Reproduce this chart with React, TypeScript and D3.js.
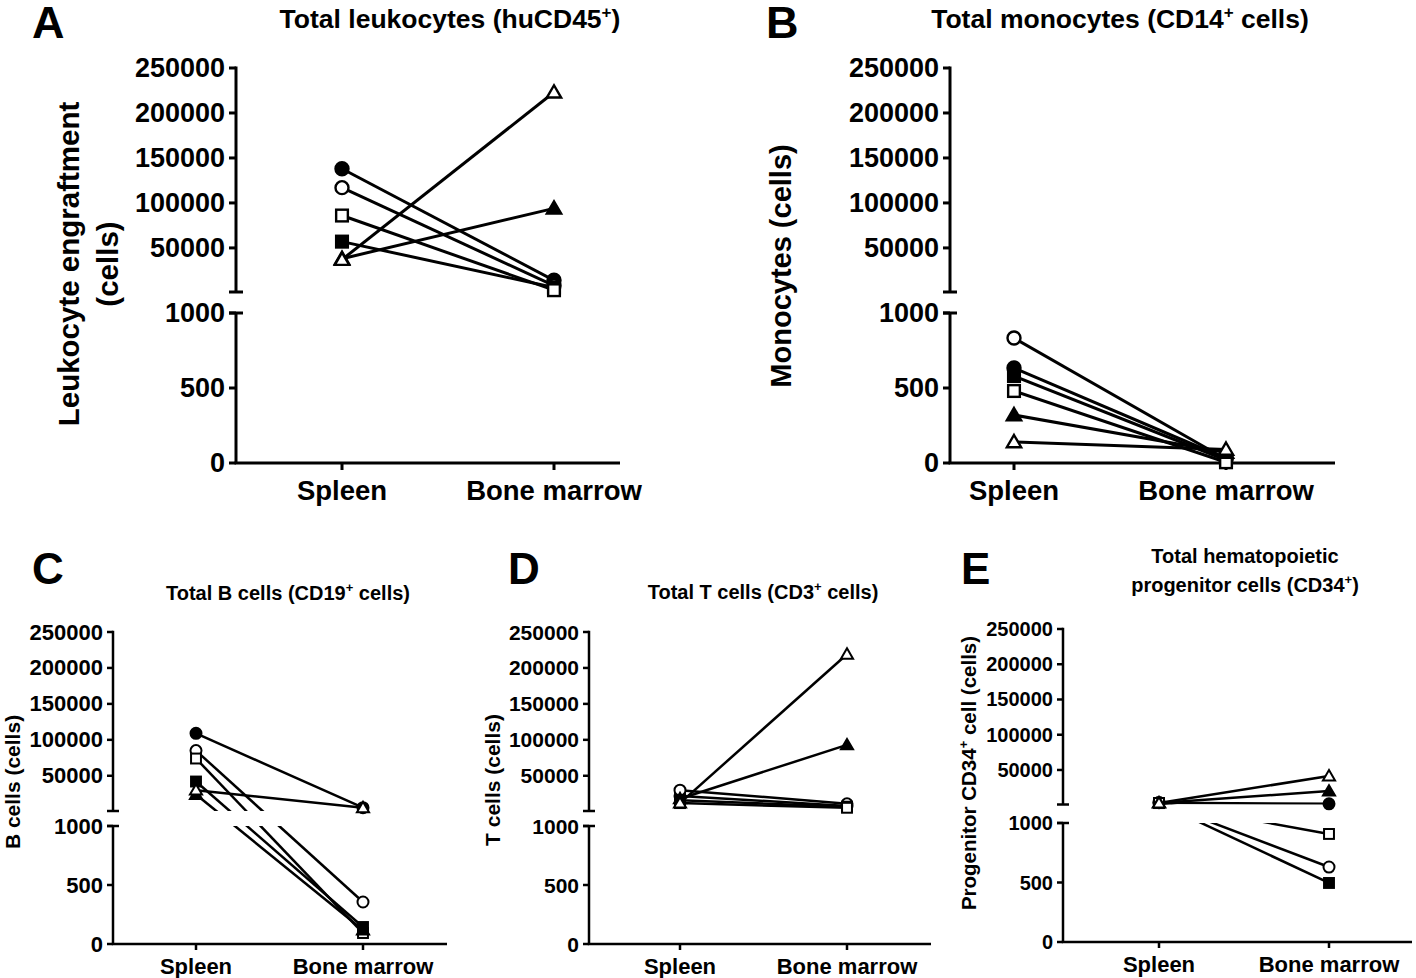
import * as d3 from 'd3';

// categories / markers / ticks
const CATEGORIES = ['Spleen', 'Bone marrow'];
const MARKERS = ['filledCircle', 'openCircle', 'filledSquare', 'openSquare', 'filledTriangle', 'openTriangle'];
const UPPER_TICKS = [50000, 100000, 150000, 200000, 250000];
const LOWER_TICKS = [0, 500, 1000];

// values per mouse, in MARKERS order
const leukoSpleen = [138000, 117000, 57000, 86000, 38000, 37000];
const leukoBM = [14000, 8000, 6000, 3000, 94000, 223000];
const monoSpleen = [633, 833, 580, 480, 320, 140];
const monoBM = [30, 25, 20, 5, 70, 90];
const bSpleen = [109000, 85000, 42000, 74000, 24000, 30000];
const bBM = [5600, 356, 144, 93, 119, 5500];
const tSpleen = [22000, 30000, 16000, 12000, 18000, 12000];
const tBM = [8000, 11000, 7000, 5500, 93000, 219000];
const cd34Spleen = [3500, 4000, 3000, 3200, 3300, 3000];
const cd34BM = [2000, 630, 496, 908, 20000, 41500];

const FONT = '"Liberation Sans", Arial, sans-serif';

type Cfg = {
  id: string;
  axisX: number;
  xs: [number, number];
  xEnd: number;
  upper: [number, number]; // pixel for 1000, 250000
  lower: [number, number]; // pixel for 0, 1000
  tickFont: number;
  catFont: number;
  catY: number;
  tickLen: number;
  axisW: number;
  lineW: number;
  mk: number;
};

function Marker({ type, x, y, s, sw }) {
  const filled = type.startsWith('filled');
  const fill = filled ? '#000' : '#fff';
  if (type.endsWith('Circle')) {
    return <circle cx={x} cy={y} r={s * 0.5} fill={fill} stroke="#000" strokeWidth={sw} />;
  }
  if (type.endsWith('Square')) {
    return <rect x={x - s * 0.45} y={y - s * 0.45} width={s * 0.9} height={s * 0.9} fill={fill} stroke="#000" strokeWidth={sw} />;
  }
  const h = s * 0.9;
  const pts = [[x, y - h * 0.6], [x + s * 0.55, y + h * 0.45], [x - s * 0.55, y + h * 0.45]];
  return <polygon points={pts.map(p => p.join(',')).join(' ')} fill={fill} stroke="#000" strokeWidth={sw} />;
}

function Panel({ cfg, spleen, bm }: { cfg: Cfg; spleen: number[]; bm: number[] }) {
  const xScale = d3.scalePoint().domain(CATEGORIES).range(cfg.xs);
  const yUp = d3.scaleLinear().domain([1000, 250000]).range(cfg.upper);
  const yLo = d3.scaleLinear().domain([0, 1000]).range(cfg.lower);
  const yv = (v: number) => (v <= 1000 ? yLo(v) : yUp(v));
  const line = d3.line<[string, number]>().x(d => xScale(d[0])!).y(d => yv(d[1]));
  const clipId = `clip-${cfg.id}`;
  const capW = cfg.tickLen;

  return (
    <g>
      <defs>
        <clipPath id={clipId}>
          <rect x={cfg.axisX} y={cfg.upper[1] - 40} width={cfg.xEnd - cfg.axisX + 20} height={cfg.upper[0] - cfg.upper[1] + 40} />
          <rect x={cfg.axisX} y={cfg.lower[1]} width={cfg.xEnd - cfg.axisX + 20} height={cfg.lower[0] - cfg.lower[1] + 10} />
        </clipPath>
      </defs>

      {/* y axis, two segments */}
      <g stroke="#000" strokeWidth={cfg.axisW} fill="none">
        <line x1={cfg.axisX} x2={cfg.axisX} y1={yUp(250000) - cfg.axisW / 2} y2={cfg.upper[0]} />
        <line x1={cfg.axisX - capW} x2={cfg.axisX + capW} y1={cfg.upper[0]} y2={cfg.upper[0]} />
        <line x1={cfg.axisX} x2={cfg.axisX} y1={cfg.lower[1]} y2={cfg.lower[0]} />
        <line x1={cfg.axisX - capW} x2={cfg.axisX + capW} y1={cfg.lower[1]} y2={cfg.lower[1]} />
        {UPPER_TICKS.map(t => (
          <line key={t} x1={cfg.axisX - cfg.tickLen} x2={cfg.axisX} y1={yUp(t)} y2={yUp(t)} />
        ))}
        {LOWER_TICKS.map(t => (
          <line key={t} x1={cfg.axisX - cfg.tickLen} x2={cfg.axisX} y1={yLo(t)} y2={yLo(t)} />
        ))}
        {/* x axis */}
        <line x1={cfg.axisX - cfg.axisW / 2} x2={cfg.xEnd} y1={cfg.lower[0]} y2={cfg.lower[0]} />
        {CATEGORIES.map(c => (
          <line key={c} x1={xScale(c)} x2={xScale(c)} y1={cfg.lower[0]} y2={cfg.lower[0] + cfg.tickLen} />
        ))}
      </g>

      <g fontFamily={FONT} fontWeight="bold" fontSize={cfg.tickFont} textAnchor="end" dominantBaseline="central">
        {UPPER_TICKS.map(t => (
          <text key={t} x={cfg.axisX - cfg.tickLen - 4} y={yUp(t)}>{t}</text>
        ))}
        {LOWER_TICKS.map(t => (
          <text key={t} x={cfg.axisX - cfg.tickLen - 4} y={yLo(t)}>{t}</text>
        ))}
      </g>
      <g fontFamily={FONT} fontWeight="bold" fontSize={cfg.catFont} textAnchor="middle">
        {CATEGORIES.map(c => (
          <text key={c} x={xScale(c)} y={cfg.catY}>{c}</text>
        ))}
      </g>

      {/* paired lines, cut at the axis break */}
      <g clipPath={`url(#${clipId})`} fill="none" stroke="#000" strokeWidth={cfg.lineW}>
        {MARKERS.map((m, i) => (
          <path key={m} d={line([[CATEGORIES[0], spleen[i]], [CATEGORIES[1], bm[i]]])!} />
        ))}
      </g>
      {MARKERS.map((m, i) => (
        <g key={m}>
          <Marker type={m} x={xScale(CATEGORIES[0])} y={yv(spleen[i])} s={cfg.mk} sw={cfg.lineW * 0.8} />
          <Marker type={m} x={xScale(CATEGORIES[1])} y={yv(bm[i])} s={cfg.mk} sw={cfg.lineW * 0.8} />
        </g>
      ))}
    </g>
  );
}

const big = { tickFont: 27, catFont: 27.5, tickLen: 7, axisW: 3, lineW: 3, mk: 13 };
const small = { tickFont: 22, catFont: 22, tickLen: 6, axisW: 2.5, lineW: 2.5, mk: 11 };

const cfgA: Cfg = { id: 'A', axisX: 236, xs: [342, 554], xEnd: 620, upper: [292, 68], lower: [463, 313], catY: 500, ...big };
const cfgB: Cfg = { id: 'B', axisX: 950, xs: [1014, 1226], xEnd: 1335, upper: [292, 68], lower: [463, 313], catY: 500, ...big };
const cfgC: Cfg = { id: 'C', axisX: 113, xs: [196, 363], xEnd: 447, upper: [811, 632], lower: [944, 826], catY: 974, ...small };
const cfgD: Cfg = { id: 'D', axisX: 589, xs: [680, 847], xEnd: 931, upper: [811, 632], lower: [944, 826], catY: 974, ...small, tickFont: 21 };
const cfgE: Cfg = { id: 'E', axisX: 1063, xs: [1159, 1329], xEnd: 1412, upper: [804.5, 629], lower: [942, 823], catY: 972, ...small, tickFont: 20 };

export default function App() {
  const t = { fontFamily: FONT, fontWeight: 'bold' as const };
  return (
    <svg width={1416} height={978} style={{ position: 'absolute', left: 0, top: 0, background: '#fff' }}>
      {/* panel letters */}
      <g {...t} fontSize={45}>
        <text x={32} y={38}>A</text>
        <text x={766} y={38}>B</text>
      </g>
      <g {...t} fontSize={44}>
        <text x={32} y={584}>C</text>
        <text x={508} y={584}>D</text>
        <text x={961} y={584}>E</text>
      </g>

      {/* titles */}
      <g {...t} textAnchor="middle">
        <text x={450} y={28} fontSize={26.5}>
          Total leukocytes (huCD45<tspan dy={-10} fontSize={17}>+</tspan><tspan dy={10}>)</tspan>
        </text>
        <text x={1120} y={28} fontSize={26.5}>
          Total monocytes (CD14<tspan dy={-10} fontSize={17}>+</tspan><tspan dy={10}> cells)</tspan>
        </text>
        <text x={288} y={600} fontSize={20}>
          Total B cells (CD19<tspan dy={-8} fontSize={13}>+</tspan><tspan dy={8}> cells)</tspan>
        </text>
        <text x={763} y={599} fontSize={20}>
          Total T cells (CD3<tspan dy={-8} fontSize={13}>+</tspan><tspan dy={8}> cells)</tspan>
        </text>
        <text x={1245} y={563} fontSize={20}>Total hematopoietic</text>
        <text x={1245} y={592} fontSize={20}>
          progenitor cells (CD34<tspan dy={-8} fontSize={13}>+</tspan><tspan dy={8}>)</tspan>
        </text>
      </g>

      {/* y labels */}
      <g {...t} textAnchor="middle">
        <text transform="translate(79,264) rotate(-90)" fontSize={29.5}>Leukocyte engraftment</text>
        <text transform="translate(118,264) rotate(-90)" fontSize={29.5}>(cells)</text>
        <text transform="translate(791,266) rotate(-90)" fontSize={29}>Monocytes (cells)</text>
        <text transform="translate(20,782) rotate(-90)" fontSize={21}>B cells (cells)</text>
        <text transform="translate(500,780) rotate(-90)" fontSize={21}>T cells (cells)</text>
        <text transform="translate(976,773) rotate(-90)" fontSize={20.5}>
          Progenitor CD34<tspan dy={-8} fontSize={13}>+</tspan><tspan dy={8}> cell (cells)</tspan>
        </text>
      </g>

      <Panel cfg={cfgA} spleen={leukoSpleen} bm={leukoBM} />
      <Panel cfg={cfgB} spleen={monoSpleen} bm={monoBM} />
      <Panel cfg={cfgC} spleen={bSpleen} bm={bBM} />
      <Panel cfg={cfgD} spleen={tSpleen} bm={tBM} />
      <Panel cfg={cfgE} spleen={cd34Spleen} bm={cd34BM} />
    </svg>
  );
}
